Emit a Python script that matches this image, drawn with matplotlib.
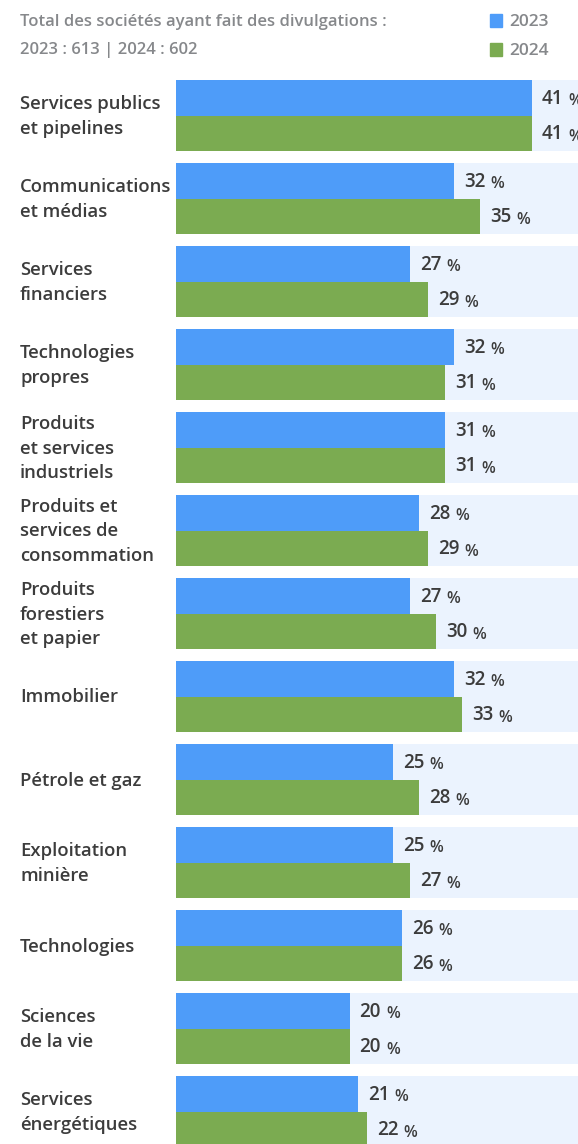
import matplotlib
matplotlib.use("Agg")
import matplotlib.pyplot as plt
from matplotlib.transforms import offset_copy

categories = [
    "Services publics\net pipelines",
    "Communications\net médias",
    "Services\nfinanciers",
    "Technologies\npropres",
    "Produits\net services\nindustriels",
    "Produits et\nservices de\nconsommation",
    "Produits\nforestiers\net papier",
    "Immobilier",
    "Pétrole et gaz",
    "Exploitation\nminière",
    "Technologies",
    "Sciences\nde la vie",
    "Services\nénergétiques",
]
values_2023 = [41, 32, 27, 32, 31, 28, 27, 32, 25, 25, 26, 20, 21]
values_2024 = [41, 35, 29, 31, 31, 29, 30, 33, 28, 27, 26, 20, 22]
series_labels = ["2023", "2024"]
header_lines = ["Total des sociétés ayant fait des divulgations :",
                "2023 : 613 | 2024 : 602"]

BLUE = "#4E9CF9"
GREEN = "#7BAB51"
PANEL = "#EBF3FE"
TEXT = "#3C3C3C"
GREY = "#86888B"
FONT = ["Open Sans", "DejaVu Sans"]

W, H = 578, 1144
fig = plt.figure(figsize=(W / 100, H / 100), dpi=100)
x0 = 176
ax = fig.add_axes([x0 / W, 0, 1 - x0 / W, 1])
px_per_pct = 8.68
ax.set_xlim(0, (W - x0) / px_per_pct)
ax.set_ylim(H, 0)
ax.axis("off")

top0, step, bar_h = 80, 83, 35.5
xmax = (W - x0) / px_per_pct
renderer = fig.canvas.get_renderer()

for i, cat in enumerate(categories):
    top = top0 + i * step
    # background panel
    ax.barh(top + bar_h, xmax, height=2 * bar_h, left=0, color=PANEL, zorder=0)
    yb = top + bar_h / 2
    yg = top + bar_h * 1.5
    ax.barh(yb, values_2023[i], height=bar_h, color=BLUE, zorder=2)
    ax.barh(yg, values_2024[i], height=bar_h, color=GREEN, zorder=2)
    # category label
    fig.text(20 / W, 1 - (top + bar_h + 1) / H, cat, ha="left", va="center",
             fontsize=13.3, fontweight="semibold", color=TEXT, family=FONT,
             linespacing=1.46)
    for y, v in ((yb, values_2023[i]), (yg, values_2024[i])):
        tr = offset_copy(ax.transData, fig=fig, x=10 * 0.72, y=0, units="points")
        t = ax.text(v, y + 1, f"{v}", ha="left", va="center", fontsize=13.5,
                    fontweight="semibold", color=TEXT, family=FONT,
                    transform=tr, zorder=3, clip_on=False)
        bb = t.get_window_extent(renderer)
        fig.text((bb.x1 + 5) / W, (bb.y0 + bb.y1) / 2 / H - 2.5 / H, "%",
                 ha="left", va="center", fontsize=11.5, fontweight="semibold",
                 color=TEXT, family=FONT)

# header
fig.text(20 / W, 1 - 22 / H, header_lines[0], ha="left", va="center",
         fontsize=12, fontweight="semibold", color=GREY, family=FONT)
fig.text(20 / W, 1 - 50 / H, header_lines[1], ha="left", va="center",
         fontsize=12, fontweight="semibold", color=GREY, family=FONT)

# legend
for k, (lab, col) in enumerate(zip(series_labels, [BLUE, GREEN])):
    yc = 21 + k * 29
    fig.patches.append(plt.Rectangle((490 / W, 1 - (yc + 6) / H), 12.5 / W, 12.5 / H,
                                     transform=fig.transFigure, color=col))
    fig.text(509 / W, 1 - (yc + 1) / H, lab, ha="left", va="center",
             fontsize=12.5, fontweight="semibold", color=GREY, family=FONT)

fig.savefig("out.png", dpi=100)
